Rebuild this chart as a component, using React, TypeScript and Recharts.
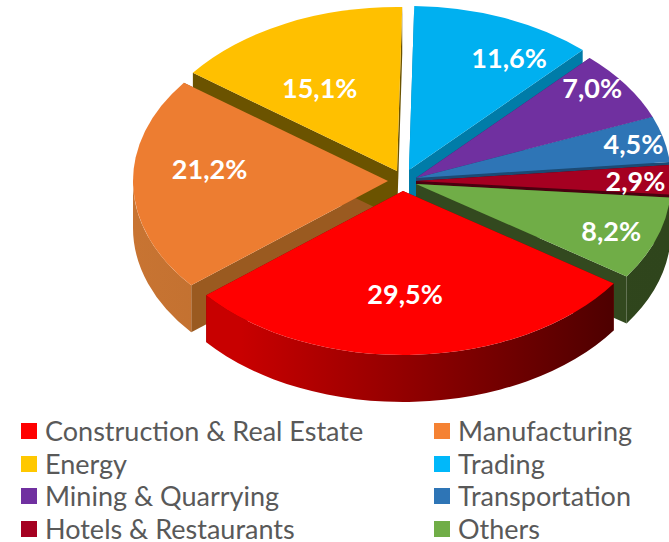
import React from 'react';
import { PieChart, Pie, Legend } from 'recharts';

const categories = ['Construction & Real Estate', 'Manufacturing', 'Energy', 'Trading', 'Mining & Quarrying', 'Transportation', 'Hotels & Restaurants', 'Others'];
const shares = [29.5, 21.2, 15.1, 11.6, 7.0, 4.5, 2.9, 8.2];
const colors = ['#FF0000', '#ED7D31', '#FFC000', '#00B0F0', '#7030A0', '#2E75B6', '#A50021', '#70AD47'];
const legendColors = ['#FF0000', '#F58233', '#FFC800', '#00B8FA', '#7030A0', '#2E75B6', '#A50021', '#70AD47'];

// side wall colours: radial face, outer face left, outer face right
const walls = [
    ['#7a0000', '#C80000', '#4E0000'],
    ['#9A5A20', '#C87432', '#A2602A'],
    ['#6B5300', '#6B5300', '#6B5300'],
    ['#007CA8', '#007CA8', '#007CA8'],
    ['#3D1A5A', '#3D1A5A', '#3D1A5A'],
    ['#1C4A74', '#1C4A74', '#1C4A74'],
    ['#4A0010', '#4A0010', '#4A0010'],
    ['#33491F', '#33491F', '#2F451C'],
];
// how far each slice is pulled off the pie centre
const explode = [[-2, 11], [-17, 1], [-8, -9], [4, -10], [11, -2], [11, -2], [11, 1], [11, 4]];
// fine tuning of the value labels
const labelNudge = [[-6, -12], [0, -15], [1, 20], [33, -6], [29, -26], [44, -7], [41, 0], [27, 8]];

const TILT = 0.643;
const DEPTH = 47;
const RAD = Math.PI / 180;

// pie starts at the Manufacturing slice so Construction gets painted last
const order = [1, 2, 3, 4, 5, 6, 7, 0];
const pieData = order.map(i => ({ name: categories[i], value: shares[i], fill: colors[i], idx: i }));

const pt = (p: any, angle: number, extra = 0) => {
    const [ox, oy] = explode[p.idx];
    return {
        x: p.cx + ox + p.outerRadius * Math.cos(angle * RAD),
        y: p.cy + oy - p.outerRadius * TILT * Math.sin(angle * RAD) + extra,
    };
};

const WallShape = (props: any) => {
    const idx = props.payload?.idx ?? props.idx;
    const p = { ...props, idx };
    const [ox, oy] = explode[idx];
    const ax = props.cx + ox;
    const ay = props.cy + oy;
    const rx = props.outerRadius;
    const ry = rx * TILT;
    const [radial, left, right] = walls[idx];
    const hi = Math.max(props.startAngle, props.endAngle);
    const lo = Math.min(props.startAngle, props.endAngle);

    const faces = [hi, lo].map(a => {
        const c = pt(p, a);
        return <path key={a} fill={radial} d={`M${ax},${ay} L${c.x},${c.y} L${c.x},${c.y + DEPTH} L${ax},${ay + DEPTH} Z`} />;
    });

    // only the front half of the rim can be seen
    const arcs: React.ReactNode[] = [];
    for (let k = -2; k <= 1; k++) {
        const a = Math.max(lo, -180 + 360 * k);
        const b = Math.min(hi, 360 * k);
        if (b <= a) continue;
        const p1 = pt(p, b);
        const p2 = pt(p, a);
        arcs.push(
            <path
                key={k}
                fill={`url(#wall-${idx})`}
                d={`M${p1.x},${p1.y} A${rx},${ry} 0 0 1 ${p2.x},${p2.y} L${p2.x},${p2.y + DEPTH} A${rx},${ry} 0 0 0 ${p1.x},${p1.y + DEPTH} Z`}
            />
        );
    }

    return (
        <g>
            <defs>
                <linearGradient id={`wall-${idx}`} gradientUnits="userSpaceOnUse" x1={ax - rx} y1={0} x2={ax + (idx === 0 ? rx * 0.82 : rx)} y2={0}>
                    <stop offset={idx === 0 ? '0.2' : '0'} stopColor={left} />
                    <stop offset="1" stopColor={right} />
                </linearGradient>
            </defs>
            {faces}
            {arcs}
        </g>
    );
};

const TopShape = (props: any) => {
    const idx = props.payload?.idx ?? props.idx;
    const p = { ...props, idx };
    const [ox, oy] = explode[idx];
    const rx = props.outerRadius;
    const ry = rx * TILT;
    const s = pt(p, props.startAngle);
    const e = pt(p, props.endAngle);
    const large = Math.abs(props.startAngle - props.endAngle) > 180 ? 1 : 0;
    return <path fill={colors[idx]} d={`M${props.cx + ox},${props.cy + oy} L${s.x},${s.y} A${rx},${ry} 0 ${large} 1 ${e.x},${e.y} Z`} />;
};

const renderLabel = (props: any) => {
    const idx = props.payload?.idx ?? props.idx;
    const [ox, oy] = explode[idx];
    const [nx, ny] = labelNudge[idx];
    const rx = props.outerRadius;
    const x = props.cx + ox + nx + 0.7 * rx * Math.cos(props.midAngle * RAD);
    const y = props.cy + oy + ny - 0.7 * rx * TILT * Math.sin(props.midAngle * RAD);
    return (
        <text x={x} y={y} fill="#fff" textAnchor="middle" dominantBaseline="central" fontFamily="Lato" fontWeight={700} fontSize={27}>
            {shares[idx].toFixed(1).replace('.', ',')}%
        </text>
    );
};

const renderLegend = () => (
    <div style={{ position: 'relative', width: 669, height: 122, fontFamily: 'Lato', fontSize: 27, color: '#595959' }}>
        {categories.map((name, i) => {
            const left = i % 2 === 0 ? 21 : 434;
            const top = Math.floor(i / 2) * 32.6;
            return (
                <div key={name} style={{ position: 'absolute', left, top, height: 24, whiteSpace: 'nowrap', lineHeight: '24px' }}>
                    <span style={{ position: 'absolute', left: 0, top: 4, width: 16, height: 16, background: legendColors[i] }} />
                    <span style={{ marginLeft: 24 }}>{name}</span>
                </div>
            );
        })}
    </div>
);

export default function App() {
    return (
        <div style={{ position: 'absolute', left: 0, top: 0, width: 669, height: 542, overflow: 'hidden', background: '#fff' }}>
            <PieChart width={669} height={542} margin={{ top: 0, right: 0, bottom: 0, left: 0 }}>
                <Pie
                    data={pieData}
                    dataKey="value"
                    cx={405}
                    cy={180}
                    outerRadius={255}
                    startAngle={219.5}
                    endAngle={-140.5}
                    stroke="none"
                    legendType="none"
                    shape={WallShape}
                    isAnimationActive={false}
                />
                <Pie
                    data={pieData}
                    dataKey="value"
                    cx={405}
                    cy={180}
                    outerRadius={255}
                    startAngle={219.5}
                    endAngle={-140.5}
                    stroke="none"
                    shape={TopShape}
                    label={renderLabel}
                    labelLine={false}
                    isAnimationActive={false}
                />
                <Legend content={renderLegend} wrapperStyle={{ position: 'absolute', left: 0, top: 419, width: 669 }} />
            </PieChart>
        </div>
    );
}
